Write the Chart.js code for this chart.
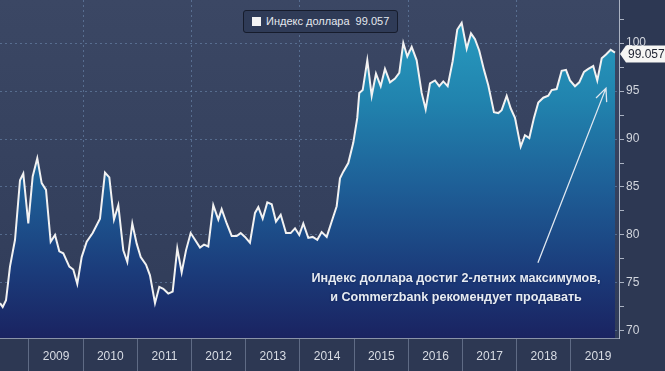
<!DOCTYPE html>
<html>
<head>
<meta charset="utf-8">
<script src="https://cdn.jsdelivr.net/npm/chart.js@4.4.0/dist/chart.umd.min.js"></script>
<style>
  html, body { margin: 0; padding: 0; background: #2d3853; }
  #wrap { position: relative; width: 665px; height: 371px; overflow: hidden; }
  #legend {
    position: absolute; left: 243px; top: 10px; height: 21px; padding: 0 8px 0 8px;
    border: 1px solid #161c2c; border-radius: 3px; background: #2f3b57;
    font: 11px "Liberation Sans", Arial, sans-serif; color: #e4e8ee;
    line-height: 21px; white-space: pre;
  }
  #legend span.box { display: inline-block; width: 9px; height: 9px; background: #f4f4f4; margin-right: 5px; vertical-align: -1px; }
  #note {
    position: absolute; left: 300px; top: 269px; width: 312px; text-align: center;
    font: bold 12.6px "Liberation Sans", Arial, sans-serif; color: #e6ebf2; line-height: 19px;
    text-shadow: 0 0 2px rgba(10,20,60,0.6);
  }
</style>
</head>
<body>
<div id="wrap">
  <canvas id="myChart" width="665" height="371"></canvas>
  <div id="legend"><span class="box"></span>Индекс доллара  99.057</div>
  <div id="note">Индекс доллара достиг 2-летних максимумов,<br>и Commerzbank рекомендует продавать</div>
</div>
<script>
// dates as decimal years
const dates = [
  2008.465, 2008.515, 2008.576, 2008.649, 2008.742, 2008.834, 2008.895, 2008.987,
  2009.068, 2009.153, 2009.234, 2009.314, 2009.400, 2009.480, 2009.559, 2009.633,
  2009.744, 2009.817, 2009.891, 2009.972, 2010.065, 2010.175, 2010.310, 2010.402,
  2010.482, 2010.568, 2010.648, 2010.740, 2010.814, 2010.906, 2010.987, 2011.061,
  2011.159, 2011.232, 2011.325, 2011.404, 2011.478, 2011.570, 2011.651, 2011.736,
  2011.817, 2011.897, 2011.983, 2012.063, 2012.155, 2012.229, 2012.308, 2012.400,
  2012.493, 2012.555, 2012.648, 2012.740, 2012.832, 2012.906, 2012.985, 2013.077,
  2013.170, 2013.231, 2013.312, 2013.397, 2013.478, 2013.557, 2013.644, 2013.742,
  2013.828, 2013.908, 2013.987, 2014.061, 2014.153, 2014.234, 2014.319, 2014.400,
  2014.493, 2014.585, 2014.677, 2014.738, 2014.799, 2014.891, 2014.983, 2015.057,
  2015.094, 2015.157, 2015.242, 2015.323, 2015.402, 2015.489, 2015.568, 2015.661,
  2015.753, 2015.832, 2015.906, 2015.980, 2016.061, 2016.153, 2016.245, 2016.319,
  2016.399, 2016.491, 2016.570, 2016.644, 2016.725, 2016.817, 2016.902, 2016.983,
  2017.076, 2017.155, 2017.229, 2017.308, 2017.395, 2017.474, 2017.579, 2017.659,
  2017.721, 2017.814, 2017.887, 2017.967, 2018.072, 2018.151, 2018.231, 2018.317,
  2018.397, 2018.489, 2018.581, 2018.644, 2018.736, 2018.828, 2018.908, 2018.982,
  2019.074, 2019.153, 2019.240, 2019.319, 2019.411, 2019.485, 2019.567, 2019.646,
  2019.732, 2019.812
];
const values = [
  72.9, 72.5, 73.2, 76.7, 79.5, 85.7, 86.4, 81.2,
  86.1, 88.0, 85.4, 84.7, 79.3, 80.0, 78.3, 78.1,
  76.7, 76.4, 74.9, 77.7, 79.3, 80.2, 81.7, 86.5,
  86.0, 81.6, 83.1, 78.4, 77.2, 81.2, 79.1, 77.7,
  76.9, 75.8, 72.9, 74.6, 74.4, 73.9, 74.1, 78.6,
  76.1, 78.4, 80.2, 79.5, 78.7, 79.0, 78.8, 83.1,
  81.6, 82.7, 81.2, 79.9, 79.9, 80.2, 79.8, 79.2,
  82.3, 82.9, 81.7, 83.4, 83.2, 81.4, 82.1, 80.2,
  80.2, 80.7, 80.0, 81.2, 79.7, 79.8, 79.5, 80.3,
  79.8, 81.4, 83.0, 85.9, 86.6, 87.5, 89.6, 92.2,
  94.8, 95.1, 98.2, 94.5, 96.8, 95.5, 97.3, 95.9,
  96.3, 96.9, 100.0, 98.6, 99.6, 98.2, 94.8, 93.1,
  95.8, 96.1, 95.5, 96.0, 95.5, 98.1, 101.4, 102.1,
  99.4, 101.0, 100.4, 99.2, 97.2, 95.6, 92.8, 92.7,
  93.0, 94.5, 93.2, 92.2, 89.2, 90.4, 90.1, 92.2,
  93.8, 94.3, 94.5, 95.1, 95.2, 97.1, 97.2, 96.1,
  95.5, 95.9, 97.0, 97.3, 97.6, 96.1, 98.4, 98.8,
  99.3, 99.0
];
const yearStarts = [2009, 2010, 2011, 2012, 2013, 2014, 2015, 2016, 2017, 2018, 2019];
const yTicks = [70, 72.5, 75, 77.5, 80, 82.5, 85, 87.5, 90, 92.5, 95, 97.5, 100, 102.5];
const lastValue = "99.057";
// arrow of the note, in data units: [year, value]
const arrowFrom = [2018.39, 77.1];
const arrowTo = [2019.646, 95.3];

const gridDots = "rgba(118,150,190,0.5)";
const none = "rgba(0,0,0,0)";

const points = dates.map((d, i) => ({ x: d, y: values[i] }));

const plotBg = {
  id: "plotBg",
  beforeDraw(chart) {
    const { ctx, chartArea: a } = chart;
    const g = ctx.createLinearGradient(0, a.top, 0, a.bottom);
    g.addColorStop(0, "#3b4764");
    g.addColorStop(1, "#303c59");
    ctx.save();
    ctx.fillStyle = g;
    ctx.fillRect(a.left, a.top, a.right - a.left, a.bottom - a.top);
    ctx.restore();
  }
};

const extras = {
  id: "extras",
  afterDraw(chart) {
    const { ctx, scales: { x, y }, chartArea: a } = chart;
    // arrow
    const x1 = x.getPixelForValue(arrowFrom[0]), y1 = y.getPixelForValue(arrowFrom[1]);
    const x2 = x.getPixelForValue(arrowTo[0]), y2 = y.getPixelForValue(arrowTo[1]);
    const ang = Math.atan2(y2 - y1, x2 - x1);
    ctx.save();
    ctx.strokeStyle = "#dfe7f0";
    ctx.lineWidth = 1.3;
    ctx.beginPath();
    ctx.moveTo(x1, y1);
    ctx.lineTo(x2, y2);
    ctx.moveTo(x2 - 14 * Math.cos(ang - 0.42), y2 - 14 * Math.sin(ang - 0.42));
    ctx.lineTo(x2, y2);
    ctx.lineTo(x2 - 14 * Math.cos(ang + 0.42), y2 - 14 * Math.sin(ang + 0.42));
    ctx.stroke();
    // last value badge
    const by = y.getPixelForValue(values[values.length - 1]) + 1.5;
    const bx = a.right + 1;
    ctx.fillStyle = "#f6f6f4";
    ctx.beginPath();
    ctx.moveTo(bx, by);
    ctx.lineTo(bx + 6, by - 8.5);
    ctx.lineTo(chart.width, by - 8.5);
    ctx.lineTo(chart.width, by + 8.5);
    ctx.lineTo(bx + 6, by + 8.5);
    ctx.closePath();
    ctx.fill();
    ctx.fillStyle = "#1d2230";
    ctx.font = "12px 'Liberation Sans', Arial, sans-serif";
    ctx.textBaseline = "middle";
    ctx.fillText(lastValue, bx + 8, by + 0.5);
    ctx.restore();
  }
};

const ctx = document.getElementById("myChart").getContext("2d");
const mychart = new Chart(ctx, {
  type: "line",
  data: {
    datasets: [{
      label: "Индекс доллара",
      data: points,
      borderColor: "#f2f2f2",
      borderWidth: 2,
      pointRadius: 0,
      tension: 0,
      fill: "start",
      backgroundColor: (c) => {
        const a = c.chart.chartArea;
        if (!a) return "#1f5a93";
        const g = c.chart.ctx.createLinearGradient(0, a.top, 0, a.bottom);
        g.addColorStop(0, "#2aa2c4");
        g.addColorStop(0.3, "#2183ae");
        g.addColorStop(0.55, "#1e5f97");
        g.addColorStop(0.8, "#1b3c7b");
        g.addColorStop(1, "#1a2361");
        return g;
      }
    }]
  },
  options: {
    responsive: false,
    animation: false,
    layout: { padding: 0 },
    plugins: { legend: { display: false }, tooltip: { enabled: false } },
    scales: {
      x: {
        type: "linear",
        position: "bottom",
        min: 2008.465,
        max: 2019.886,
        afterBuildTicks: (s) => {
          const t = [];
          yearStarts.forEach((v) => { t.push({ value: v }); t.push({ value: v + 0.5 }); });
          s.ticks = t;
        },
        afterFit: (s) => { s.height = 33; s.paddingLeft = 0; s.paddingRight = 0; },
        ticks: {
          autoSkip: false,
          maxRotation: 0,
          padding: -22,
          color: "#d8dce4",
          font: { size: 12, family: "'Liberation Sans', Arial, sans-serif" },
          callback: (v) => Number.isInteger(v) ? "" : String(Math.floor(v))
        },
        grid: {
          lineWidth: 1,
          tickLength: 33,
          color: (c) => (c.tick && Number.isInteger(c.tick.value) && c.tick.value % 2 === 0) ? gridDots : none,
          tickColor: (c) => (c.tick && Number.isInteger(c.tick.value)) ? "#5f6b85" : none
        },
        border: { display: true, color: "#8a93a8", dash: [2, 3] }
      },
      y: {
        position: "right",
        min: 69.27,
        max: 104.48,
        afterBuildTicks: (s) => { s.ticks = yTicks.map((v) => ({ value: v })); },
        afterFit: (s) => { s.width = 46; s.paddingTop = 0; s.paddingBottom = 0; },
        ticks: {
          padding: 2,
          color: "#d2d6de",
          font: { size: 12, family: "'Liberation Sans', Arial, sans-serif" },
          callback: (v) => v % 5 === 0 ? String(v) : ""
        },
        grid: {
          lineWidth: 1,
          tickLength: 5,
          color: (c) => (c.tick && c.tick.value % 5 === 0) ? gridDots : none,
          tickColor: "#aab2c2"
        },
        border: { display: true, color: "#aab2c2", dash: [2, 3] }
      }
    }
  },
  plugins: [plotBg, extras]
});
</script>
</body>
</html>
